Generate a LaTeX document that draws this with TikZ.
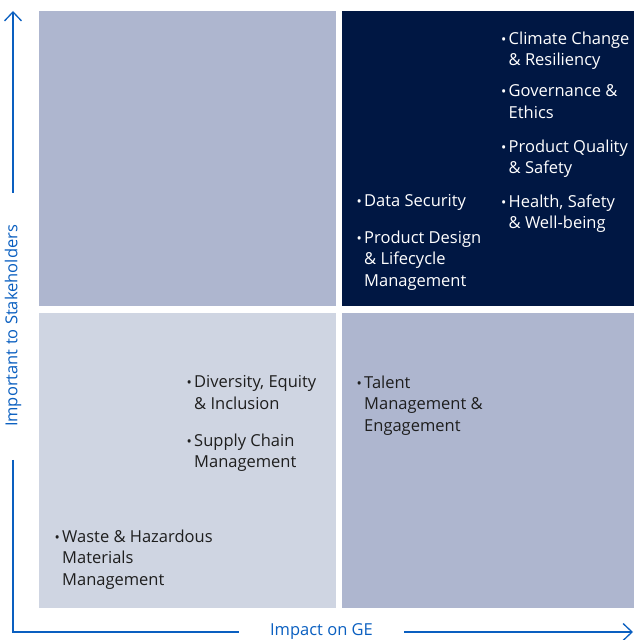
\documentclass[tikz,border=0pt]{standalone}
\usepackage{fontspec}
\setmainfont{Open Sans}
\usetikzlibrary{arrows.meta}
\definecolor{navy}{HTML}{001743}
\definecolor{quadmid}{HTML}{AEB6CF}
\definecolor{quadlight}{HTML}{CFD5E2}
\definecolor{axisblue}{HTML}{0A5FC0}
\definecolor{txtdark}{HTML}{1E1E1E}
\newcommand{\bul}{\makebox[7.5pt][l]{\scalebox{0.85}{•}}}
\newcommand{\ind}{\hspace*{7.5pt}}
\begin{document}
\begin{tikzpicture}[x=1pt,y=1pt,
  quad/.style={rectangle,draw=none,inner sep=0pt,anchor=south west,minimum width=297pt,minimum height=295pt},
  quadr/.style={quad,minimum width=292pt},
  itemtxt/.style={anchor=north west,inner sep=0pt,align=left,font=\fontsize{16.5}{21.5}\selectfont},
  axislabel/.style={text=axisblue,inner sep=0pt,font=\fontsize{16.5}{20}\selectfont},
  axisline/.style={draw=axisblue,line width=1.3pt},
  axisarrow/.style={axisline,-{Straight Barb[length=9pt,width=17pt,line width=1.3pt]}}
]
\useasboundingbox (0,0) rectangle (634,640);
% quadrants
\node[quad,fill=quadmid] (tl) at (39,334) {};
\node[quadr,fill=navy] (tr) at (342,334) {};
\node[quad,fill=quadlight] (bl) at (39,32) {};
\node[quadr,fill=quadmid] (br) at (342,32) {};
% axes
\coordinate (origin) at (13,8);
\coordinate (ytop) at (13,629);
\coordinate (xend) at (633,8);
\node[axislabel,rotate=90] (ylab) at (13,314) {Important to Stakeholders};
\node[axislabel] (xlab) at (321.5,8) {Impact on GE};
\coordinate (ygaplo) at (13,180);
\coordinate (ygaphi) at (13,447);
\coordinate (xgaplo) at (239,8);
\coordinate (xgaphi) at (404,8);
\draw[axisline] (ygaplo) -- (origin) -- (xgaplo);
\draw[axisarrow] (ygaphi) -- (ytop);
\draw[axisarrow] (xgaphi) -- (xend);
% top-right items
\node[itemtxt,text=white] (climate) at (501,608.5) {\bul Climate Change\\\ind\& Resiliency};
\node[itemtxt,text=white] (gov) at (501,555.5) {\bul Governance \&\\\ind Ethics};
\node[itemtxt,text=white] (pq) at (501,500.5) {\bul Product Quality\\\ind\& Safety};
\node[itemtxt,text=white] (health) at (501,445.5) {\bul Health, Safety\\\ind\& Well-being};
\node[itemtxt,text=white] (data) at (356.5,445.5) {\bul Data Security};
\node[itemtxt,text=white] (pd) at (356.5,409.5) {\bul Product Design\\\ind\& Lifecycle\\\ind Management};
% bottom-left items
\node[itemtxt,text=txtdark] (dei) at (186.5,264.5) {\bul Diversity, Equity\\\ind\& Inclusion};
\node[itemtxt,text=txtdark] (scm) at (186.5,206.5) {\bul Supply Chain\\\ind Management};
\node[itemtxt,text=txtdark] (waste) at (54.5,110.5) {\bul Waste \& Hazardous\\\ind Materials\\\ind Management};
% bottom-right items
\node[itemtxt,text=txtdark] (talent) at (356.5,264.5) {\bul Talent\\\ind Management \&\\\ind Engagement};
\end{tikzpicture}
\end{document}
